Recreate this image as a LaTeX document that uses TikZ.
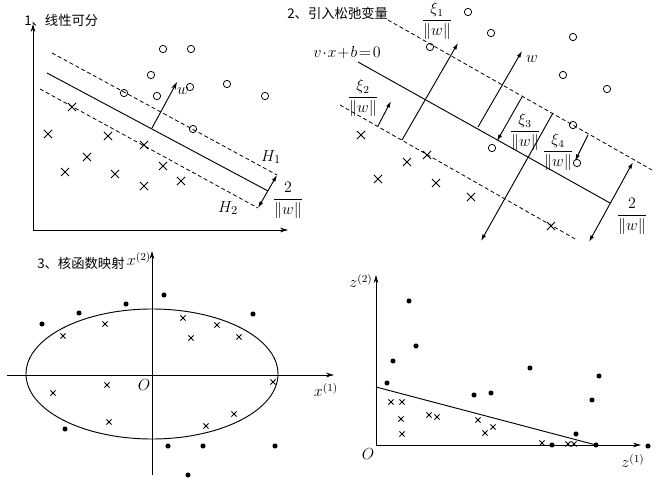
\documentclass[tikz,border=0pt]{standalone}
\usepackage{amsmath}
\usepackage{fontspec}
\newfontfamily\cjk{Noto Sans CJK SC}
\usetikzlibrary{arrows.meta,shapes.misc}
\begin{document}
\begin{tikzpicture}[x=0.75pt,y=-0.75pt,
  axis/.style={line width=0.7pt,-{Stealth[length=6pt,width=3.5pt]}},
  ln/.style={line width=0.7pt},
  dln/.style={line width=0.6pt,dash pattern=on 3pt off 2pt},
  opt/.style={circle,draw,line width=0.6pt,inner sep=0pt,minimum size=5.5pt},
  crs/.style={cross out,draw,line width=0.6pt,inner sep=0pt,minimum size=5.5pt},
  scrs/.style={cross out,draw,line width=0.7pt,inner sep=0pt,minimum size=3.2pt},
  dot/.style={circle,fill,inner sep=0pt,minimum size=3.8pt},
  perp/.style={line width=0.7pt,-{Latex[length=5pt,width=3pt]}},
  dim/.style={line width=0.7pt,{Latex[length=5pt,width=3pt]}-{Latex[length=5pt,width=3pt]}},
  title/.style={anchor=west,font=\cjk\fontsize{10}{12}\selectfont,inner sep=0pt},
  lbl/.style={font=\fontsize{13}{15}\selectfont,inner sep=0pt},
  slbl/.style={font=\fontsize{12}{14}\selectfont,inner sep=0pt},
]
\useasboundingbox (0,0) rectangle (662,481);

% ---------- panel 1 ----------
\node[title] (t1) at (24,20) {1、线性可分};
\coordinate (o1) at (33,230);
\coordinate (y1) at (33,24);
\coordinate (x1) at (288,230);
\draw[axis] (o1) -- (y1);
\draw[axis] (o1) -- (x1);
\coordinate (s1a) at (47,73);  \coordinate (s1b) at (268,191);
\coordinate (u1a) at (52,53);  \coordinate (u1b) at (277,175);
\coordinate (l1a) at (40,89);  \coordinate (l1b) at (258,208);
\draw[ln] (s1a) -- (s1b);
\draw[dln] (u1a) -- (u1b);
\draw[dln] (l1a) -- (l1b);
\coordinate (w1a) at (152,128); \coordinate (w1b) at (177,82);
\draw[axis] (w1a) -- (w1b);
\node[lbl] (w1) at (183,91) {$w$};
\draw[dim] (u1b) -- (l1b);
\node[lbl] (h1) at (271,157) {$H_1$};
\node[lbl] (h2) at (228,208) {$H_2$};
\node[lbl] (m1) at (288,200) {$\dfrac{2}{\|w\|}$};
\foreach \x/\y [count=\i] in {163/49,191/49,151/75,124/93,157/96,190/87,227/84,265/96,193/129}
  \node[opt] (c1\i) at (\x,\y) {};
\foreach \x/\y [count=\i] in {48/134,72/107,108/136,144/145,87/157,65/172,115/174,163/166,144/186,181/181}
  \node[crs] (k1\i) at (\x,\y) {};

% ---------- panel 2 ----------
\node[title] (t2) at (287,13) {2、引入松弛变量};
\coordinate (u2a) at (388,20);  \coordinate (u2b) at (652,170);
\coordinate (s2a) at (358,62);  \coordinate (s2b) at (610,203);
\coordinate (l2a) at (340,105); \coordinate (l2b) at (577,240);
\draw[dln] (u2a) -- (u2b);
\draw[ln] (s2a) -- (s2b);
\draw[dln] (l2a) -- (l2b);
\node[slbl] (eq) at (347,53) {$v\!\cdot\! x\!+\!b\!=\!0$};
\coordinate (p1a) at (402,140); \coordinate (p1b) at (458,43);
\draw[perp] (p1a) -- (p1b);
\coordinate (p2a) at (378,126); \coordinate (p2b) at (391,101);
\draw[perp] (p2a) -- (p2b);
\coordinate (wa) at (478,127);  \coordinate (wb) at (522,51);
\draw[perp] (wa) -- (wb);
\node[slbl] (w2) at (532,59) {$w$};
\coordinate (p3a) at (522,97);  \coordinate (p3b) at (497,141);
\draw[perp] (p3a) -- (p3b);
\coordinate (p4a) at (553,113); \coordinate (p4b) at (481,241);
\draw[perp] (p4a) -- (p4b);
\coordinate (p5a) at (588,135); \coordinate (p5b) at (575,161);
\draw[perp] (p5a) -- (p5b);
\coordinate (p6a) at (633,162); \coordinate (p6b) at (589,242);
\draw[dim] (p6a) -- (p6b);
\node[slbl] (xi1) at (437,21) {$\dfrac{\xi_1}{\|w\|}$};
\node[slbl] (xi2) at (363,98) {$\dfrac{\xi_2}{\|w\|}$};
\node[slbl] (xi3) at (525,132) {$\dfrac{\xi_3}{\|w\|}$};
\node[slbl] (xi4) at (558,152) {$\dfrac{\xi_4}{\|w\|}$};
\node[lbl] (m2) at (632,216) {$\dfrac{2}{\|w\|}$};
\foreach \x/\y [count=\i] in {468/12,491/33,573/37,563/75,607/89,573/125,492/148,577/163,430/47}
  \node[opt] (c2\i) at (\x,\y) {};
\foreach \x/\y [count=\i] in {361/135,407/162,427/155,378/179,436/183,471/197,551/226}
  \node[crs] (k2\i) at (\x,\y) {};

% ---------- panel 3 ----------
\node[title] (t3) at (37,263) {3、核函数映射};
\coordinate (x3a) at (7,375);   \coordinate (x3b) at (334,375);
\coordinate (y3a) at (152,475); \coordinate (y3b) at (152,251);
\draw[axis] (x3a) -- (x3b);
\draw[axis] (y3a) -- (y3b);
\node[slbl] (xl2) at (139,259) {$x^{(2)}$};
\node[slbl] (xl1) at (326,390) {$x^{(1)}$};
\node[slbl] (o3) at (144,385) {$O$};
\coordinate (ec) at (152,374);
\draw[ln] (ec) ellipse [x radius=94.5pt, y radius=48.75pt];
\foreach \x/\y [count=\i] in {164/295,126/304,79/313,42/324,253/314,65/429,168/446,203/446,275/446,188/475}
  \node[dot] (d3\i) at (\x,\y) {};
\foreach \x/\y [count=\i] in {105/324,63/336,183/318,217/325,191/338,239/337,107/385,53/393,273/382,109/422,234/414,206/426}
  \node[scrs] (k3\i) at (\x,\y) {};

% ---------- panel 4 ----------
\coordinate (o4) at (376,445);
\coordinate (y4) at (376,275);
\coordinate (x4) at (641,445);
\draw[axis] (o4) -- (y4);
\draw[axis] (o4) -- (x4);
\node[slbl] (zl2) at (361,281) {$z^{(2)}$};
\node[slbl] (zl1) at (633,461) {$z^{(1)}$};
\node[slbl] (o4l) at (368,454) {$O$};
\coordinate (la) at (376,387); \coordinate (lb) at (596,445);
\draw[ln] (la) -- (lb);
\foreach \x/\y [count=\i] in {409/301,416/346,393/361,387/383,474/395,491/393,530/368,599/376,592/400,576/434,552/445,596/445,648/446}
  \node[dot] (d4\i) at (\x,\y) {};
\foreach \x/\y [count=\i] in {391/402,402/402,401/419,402/434,429/415,437/417,478/420,485/433,493/427,542/443,568/444,574/444}
  \node[scrs] (k4\i) at (\x,\y) {};
\end{tikzpicture}
\end{document}
